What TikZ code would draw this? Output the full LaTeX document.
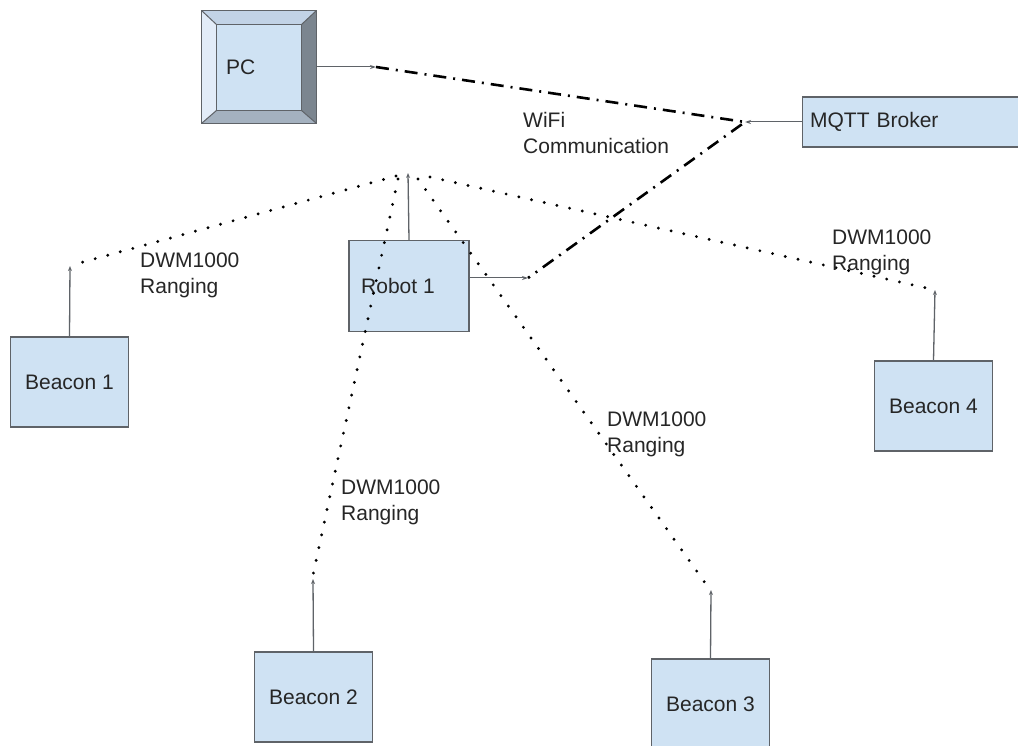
\documentclass[tikz,border=0pt]{standalone}
\usepackage{fontspec}
\setmainfont{Liberation Sans}
\usetikzlibrary{arrows.meta,positioning}

\definecolor{boxblue}{HTML}{CFE2F3}
\definecolor{boxline}{HTML}{5F6368}
\definecolor{txt}{HTML}{262626}
\definecolor{bevtop}{HTML}{C2D3E6}
\definecolor{bevleft}{HTML}{E2ECF8}
\definecolor{bevright}{HTML}{7B858F}
\definecolor{bevbot}{HTML}{A4B1BF}

\begin{document}
\begin{tikzpicture}[x=1pt,y=-1pt,font=\fontsize{21}{26}\selectfont,text=txt]
   \tikzstyle{box}=[draw=boxline,line width=1.3pt,fill=boxblue,inner sep=0pt]
   \tikzstyle{beacon}=[box,minimum width=118pt,minimum height=90pt]
   \tikzstyle{ar}=[boxline,line width=1pt,-{Stealth[length=6pt,width=4pt]}]
   \tikzstyle{stub}=[boxline,line width=1.3pt,-{Stealth[length=5pt,width=4pt,open]}]
   \tikzstyle{wifi}=[black,line width=2.6pt,dash pattern=on 13pt off 7pt on 2pt off 7pt]
   \tikzstyle{uwb}=[black,line width=3.2pt,line cap=round,dash pattern=on 0pt off 13pt]
   \tikzstyle{lbl}=[anchor=north west,align=left,inner sep=0pt]

   \clip (0,0) rectangle (1018,746);
   \fill [white] (0,0) rectangle (1018,746);

   % PC with bevel
   \node (pcout) [minimum width=114pt,minimum height=112pt,inner sep=0pt] at (259,67) {};
   \node (pc) [minimum width=84pt,minimum height=85pt,inner sep=0pt] at (259,67.5) {};
   \fill [bevtop] (pcout.north west) -- (pcout.north east) -- (pc.north east) -- (pc.north west) -- cycle;
   \fill [bevleft] (pcout.north west) -- (pc.north west) -- (pc.south west) -- (pcout.south west) -- cycle;
   \fill [bevright] (pcout.north east) -- (pc.north east) -- (pc.south east) -- (pcout.south east) -- cycle;
   \fill [bevbot] (pcout.south west) -- (pc.south west) -- (pc.south east) -- (pcout.south east) -- cycle;
   \fill [boxblue] (pc.north west) rectangle (pc.south east);
   \draw [boxline,line width=1.3pt] (pcout.north west) rectangle (pcout.south east);
   \draw [boxline,line width=1.3pt] (pc.north west) rectangle (pc.south east);
   \draw [boxline,line width=1pt] (pcout.north west) -- (pc.north west) (pcout.north east) -- (pc.north east)
      (pcout.south west) -- (pc.south west) (pcout.south east) -- (pc.south east);
   \node (pctext) [anchor=west,inner sep=0pt] at ([xshift=9pt]pc.west) {PC};

   % other boxes
   \node (mqtt) [box,anchor=west,minimum width=230pt,minimum height=50pt,text width=215pt,align=left] at (802,122) {MQTT Broker};
   \node (robot) [box,minimum width=120pt,minimum height=91pt] at (409,286) {Robot 1\kern22pt};
   \node (b1) [beacon] at (69.5,382) {Beacon 1};
   \node (b2) [beacon] at (313.5,697) {Beacon 2};
   \node (b3) [beacon] at (710.5,704) {Beacon 3};
   \node (b4) [beacon] at (933.5,406) {Beacon 4};

   % connection points
   \coordinate (w1) at (376,67);
   \coordinate (w2) at (745,122);
   \coordinate (w3) at (528,278);
   \coordinate (hub) at (408,173);
   \coordinate (t1) at (70,266);
   \coordinate (t2) at (313,579);
   \coordinate (t3) at (711,590);
   \coordinate (t4) at (935,290);

   % WiFi
   \draw [ar] (pcout.east) -- (w1);
   \draw [ar] (mqtt.west) -- (w2);
   \draw [ar] ([yshift=8pt]robot.east) -- (w3);
   \draw [wifi] (w1) -- (w2) -- (w3);

   % ranging
   \draw [stub] (robot.north) -- (hub);
   \draw [stub] (b1.north) -- (t1);
   \draw [stub] (b2.north) -- (t2);
   \draw [stub] (b3.north) -- (t3);
   \draw [stub] (b4.north) -- (t4);
   \draw [uwb] ([xshift=-12pt,yshift=-3pt]hub) -- ([xshift=6pt,yshift=2pt]t1);
   \draw [uwb] ([xshift=-10pt,yshift=-6pt]hub) -- ([yshift=4pt]t2);
   \draw [uwb] ([xshift=10pt,yshift=-6pt]hub) -- ([xshift=-3pt,yshift=3pt]t3);
   \draw [uwb] ([xshift=22pt,yshift=-4pt]hub) -- ([xshift=-4pt,yshift=1pt]t4);

   \node (lwifi) [lbl] at (523,112) {WiFi\\Communication};
   \node (l1) [lbl] at (140,253) {DWM1000\\Ranging};
   \node (l2) [lbl] at (341,480) {DWM1000\\Ranging};
   \node (l3) [lbl] at (607,412) {DWM1000\\Ranging};
   \node (l4) [lbl] at (832,230) {DWM1000\\Ranging};
\end{tikzpicture}
\end{document}
